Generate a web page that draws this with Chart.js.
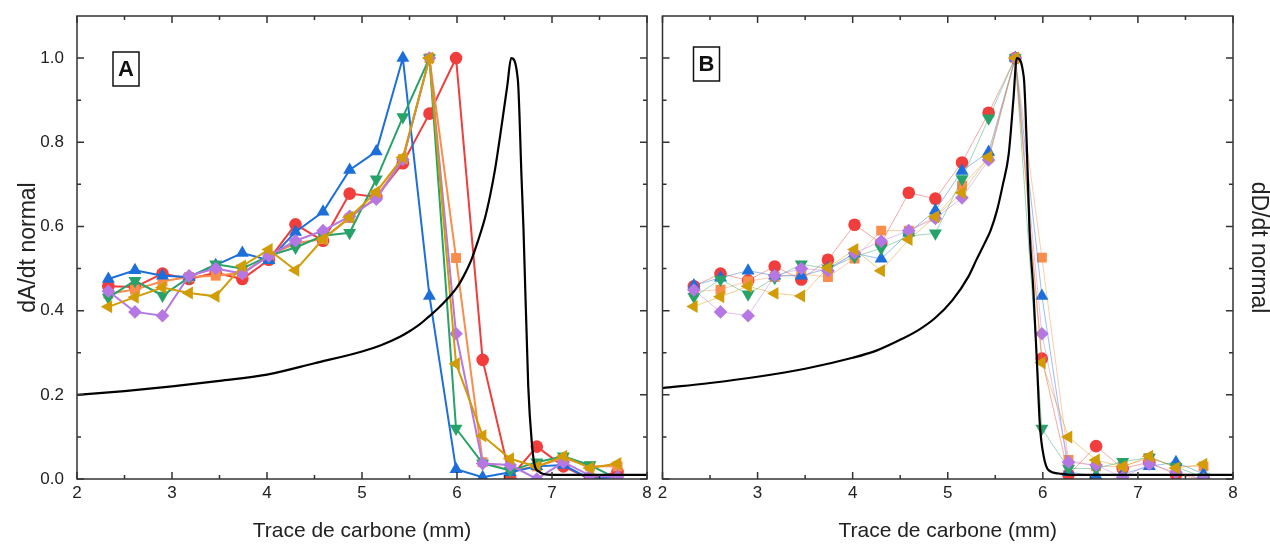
<!DOCTYPE html>
<html>
<head>
<meta charset="utf-8">
<script src="https://cdn.jsdelivr.net/npm/chart.js@4.4.0/dist/chart.umd.min.js"></script>
<style>
  html, body { margin: 0; padding: 0; background: #fff; }
  #wrapA { position: absolute; left: 0; top: 0; width: 655px; height: 544px; }
  #wrapB { position: absolute; left: 655px; top: 0; width: 615px; height: 544px; }
</style>
</head>
<body>
<div id="wrapA"><canvas id="chartA"></canvas></div>
<div id="wrapB"><canvas id="chartB"></canvas></div>
<script>
// sampling positions along the carbon trace (mm)
var xPos = [2.33, 2.61, 2.90, 3.18, 3.46, 3.74, 4.02, 4.30, 4.59, 4.87, 5.15, 5.43, 5.71, 5.99, 6.27, 6.56, 6.84, 7.12, 7.40, 7.69];

// panel A : dA/dt normalised
var redA    = [0.458, 0.456, 0.488, 0.475, 0.490, 0.475, 0.521, 0.605, 0.566, 0.678, 0.670, 0.750, 0.868, 1.000, 0.283, 0.003, 0.077, 0.030, 0.000, 0.017];
var orangeA = [0.440, 0.450, 0.470, 0.480, 0.483, 0.490, 0.530, 0.560, 0.570, 0.620, 0.670, 0.760, 1.000, 0.525, 0.040, 0.020, 0.030, 0.050, 0.030, 0.030];
var blueA   = [0.475, 0.496, 0.483, 0.480, 0.508, 0.537, 0.520, 0.587, 0.635, 0.734, 0.778, 1.000, 0.435, 0.023, 0.004, 0.016, 0.030, 0.033, 0.000, 0.005];
var greenA  = [0.431, 0.471, 0.436, 0.479, 0.510, 0.500, 0.530, 0.550, 0.578, 0.585, 0.712, 0.860, 1.000, 0.120, 0.037, 0.020, 0.040, 0.054, 0.033, 0.000];
var purpleA = [0.446, 0.397, 0.388, 0.483, 0.500, 0.488, 0.530, 0.566, 0.590, 0.624, 0.665, 0.759, 1.000, 0.345, 0.037, 0.033, 0.000, 0.040, 0.008, 0.005];
var goldA   = [0.409, 0.432, 0.455, 0.442, 0.434, 0.506, 0.545, 0.496, 0.570, 0.622, 0.682, 0.764, 1.000, 0.274, 0.103, 0.048, 0.029, 0.054, 0.026, 0.037];

// panel B : dD/dt normalised
var redB    = [0.458, 0.488, 0.472, 0.505, 0.474, 0.521, 0.604, 0.560, 0.680, 0.666, 0.752, 0.870, 1.000, 0.286, 0.010, 0.078, 0.025, 0.040, 0.010, 0.000];
var orangeB = [0.445, 0.450, 0.470, 0.480, 0.487, 0.480, 0.524, 0.590, 0.590, 0.623, 0.697, 0.763, 1.000, 0.526, 0.045, 0.030, 0.030, 0.050, 0.030, 0.030];
var blueB   = [0.460, 0.478, 0.495, 0.483, 0.483, 0.500, 0.536, 0.523, 0.585, 0.638, 0.732, 0.777, 1.000, 0.435, 0.016, 0.008, 0.012, 0.030, 0.040, 0.012];
var greenB  = [0.433, 0.474, 0.439, 0.478, 0.510, 0.500, 0.528, 0.548, 0.577, 0.584, 0.713, 0.857, 1.000, 0.120, 0.025, 0.025, 0.041, 0.051, 0.029, 0.004];
var purpleB = [0.449, 0.397, 0.388, 0.483, 0.500, 0.495, 0.537, 0.565, 0.590, 0.619, 0.668, 0.758, 1.000, 0.345, 0.040, 0.033, 0.004, 0.035, 0.016, 0.000];
var goldB   = [0.410, 0.433, 0.458, 0.441, 0.435, 0.502, 0.545, 0.495, 0.569, 0.623, 0.680, 0.765, 1.000, 0.276, 0.100, 0.045, 0.029, 0.054, 0.026, 0.035];

// black reference curves
var curveAx = [2.0, 2.5, 3.0, 3.5, 4.0, 4.5, 5.0, 5.2, 5.4, 5.5, 5.6, 5.7, 5.8, 5.9, 6.0, 6.07, 6.15, 6.22, 6.3, 6.35, 6.4, 6.47, 6.53, 6.57, 6.64, 6.68, 6.70, 6.75, 6.79, 6.82, 6.86, 6.91, 7.0, 7.5, 8.0];
var curveAy = [0.200, 0.209, 0.220, 0.233, 0.248, 0.275, 0.303, 0.318, 0.338, 0.351, 0.366, 0.385, 0.405, 0.428, 0.455, 0.482, 0.520, 0.565, 0.625, 0.675, 0.735, 0.840, 0.935, 1.000, 0.950, 0.712, 0.593, 0.220, 0.080, 0.030, 0.018, 0.012, 0.010, 0.010, 0.010];
var curveBx = [2.0, 2.5, 3.0, 3.5, 4.0, 4.25, 4.52, 4.7, 4.87, 5.05, 5.22, 5.3, 5.39, 5.45, 5.52, 5.58, 5.64, 5.69, 5.726, 5.80, 5.83, 5.86, 5.90, 5.94, 5.97, 6.01, 6.06, 6.17, 6.3, 7.0, 8.0];
var curveBy = [0.216, 0.228, 0.243, 0.262, 0.288, 0.305, 0.333, 0.355, 0.383, 0.425, 0.482, 0.520, 0.561, 0.590, 0.640, 0.700, 0.770, 0.900, 1.000, 0.954, 0.800, 0.590, 0.450, 0.267, 0.125, 0.053, 0.021, 0.013, 0.010, 0.010, 0.010];

var xTicks = [2, 3, 4, 5, 6, 7, 8];
var yTicks = [0, 0.2, 0.4, 0.6, 0.8, 1.0];

var FONT = 'Liberation Sans, Arial, sans-serif';

var markerStyles = {
  red:    { color: '#f23d3d', line: 'rgba(242,61,61,0.45)',  style: 'circle',   rot: 0,   r: 6.3 },
  orange: { color: '#f98d4b', line: 'rgba(249,141,75,0.45)', style: 'rect',     rot: 0,   r: 7 },
  blue:   { color: '#1c6fdb', line: 'rgba(28,111,219,0.45)', style: 'triangle', rot: 0,   r: 7.5 },
  green:  { color: '#27a36a', line: 'rgba(39,163,106,0.45)', style: 'triangle', rot: 180, r: 7.5 },
  purple: { color: '#b577e3', line: 'rgba(181,119,227,0.45)',style: 'rectRot',  rot: 0,   r: 6.8 },
  gold:   { color: '#d29c07', line: 'rgba(210,156,7,0.45)',  style: 'triangle', rot: 270, r: 7.5 }
};

function pts(xs, ys) {
  return xs.map(function (x, i) { return { x: x, y: ys[i] }; });
}

function markerSet(key, values, thin) {
  var m = markerStyles[key];
  return {
    data: pts(xPos, values),
    showLine: true,
    borderColor: thin ? m.line : m.color,
    borderWidth: thin ? 1 : 2,
    backgroundColor: m.color,
    pointBackgroundColor: m.color,
    pointBorderWidth: 0,
    pointStyle: m.style,
    pointRotation: m.rot,
    pointRadius: m.r
  };
}

function curveSet(xs, ys) {
  return {
    data: pts(xs, ys),
    showLine: true,
    borderColor: '#000',
    borderWidth: 2.2,
    pointRadius: 0,
    cubicInterpolationMode: 'monotone'
  };
}

// frame, inward ticks on the four sides and the boxed panel letter
var frameTicks = {
  id: 'frameTicks',
  afterDatasetsDraw: function (chart, args, opts) {
    var ctx = chart.ctx, a = chart.chartArea;
    var xs = chart.scales.x, ys = chart.scales.y;
    ctx.save();
    ctx.strokeStyle = '#333';
    ctx.lineWidth = 1.5;
    ctx.strokeRect(a.left, a.top, a.right - a.left, a.bottom - a.top);

    var xv = xs.ticks.map(function (t) { return t.value; });
    var yv = ys.ticks.map(function (t) { return t.value; });
    ctx.beginPath();
    function xt(v, len) {
      var p = xs.getPixelForValue(v);
      ctx.moveTo(p, a.bottom); ctx.lineTo(p, a.bottom - len);
      ctx.moveTo(p, a.top); ctx.lineTo(p, a.top + len);
    }
    function yt(v, len) {
      var p = ys.getPixelForValue(v);
      ctx.moveTo(a.left, p); ctx.lineTo(a.left + len, p);
      ctx.moveTo(a.right, p); ctx.lineTo(a.right - len, p);
    }
    xv.forEach(function (v, i) {
      xt(v, 7);
      if (i < xv.length - 1) xt((v + xv[i + 1]) / 2, 4);
    });
    yv.forEach(function (v, i) {
      yt(v, 7);
      if (i < yv.length - 1) yt((v + yv[i + 1]) / 2, 4);
    });
    ctx.stroke();

    ctx.lineWidth = 1.5;
    ctx.strokeStyle = '#111';
    var bx = a.left + opts.boxLeft, by = a.top + opts.boxTop;
    ctx.strokeRect(bx, by, 26, 34);
    ctx.fillStyle = '#111';
    ctx.font = 'bold 22px ' + FONT;
    ctx.textAlign = 'center';
    ctx.textBaseline = 'middle';
    ctx.fillText(opts.label, bx + 13, by + 18);
    ctx.restore();
  }
};

function noEdgePad(s) {
  s.paddingTop = 0; s.paddingBottom = 0; s.paddingLeft = 0; s.paddingRight = 0;
}

function xAxis() {
  return {
    type: 'linear', min: 2, max: 8,
    afterBuildTicks: function (s) { s.ticks = xTicks.map(function (v) { return { value: v }; }); },
    afterFit: function (s) { s.height = 65; noEdgePad(s); },
    grid: { display: false, drawTicks: false },
    border: { display: false },
    ticks: { font: { family: FONT, size: 17 }, color: '#222', padding: 4, maxRotation: 0,
             callback: function (v) { return String(v); } },
    title: { display: true, text: 'Trace de carbone (mm)', color: '#222',
             font: { family: FONT, size: 21, lineHeight: 1 }, padding: { top: 0, bottom: 2 } }
  };
}

function buildChart(id, datasets, yOpts, pad, plug) {
  return new Chart(document.getElementById(id), {
    type: 'scatter',
    data: { datasets: datasets },
    options: {
      responsive: true,
      maintainAspectRatio: false,
      animation: false,
      layout: { padding: pad },
      plugins: { legend: { display: false }, tooltip: { enabled: false }, frameTicks: plug },
      scales: { x: xAxis(), y: yOpts }
    },
    plugins: [frameTicks]
  });
}

var yBuild = function (s) { s.ticks = yTicks.map(function (v) { return { value: v }; }); };

buildChart('chartA', [
  curveSet(curveAx, curveAy),
  markerSet('gold', goldA), markerSet('purple', purpleA), markerSet('green', greenA),
  markerSet('blue', blueA), markerSet('orange', orangeA), markerSet('red', redA)
], {
  type: 'linear', min: 0, max: 1.1,
  afterBuildTicks: yBuild,
  afterFit: function (s) { s.width = 77; noEdgePad(s); },
  grid: { display: false, drawTicks: false },
  border: { display: false },
  ticks: { font: { family: FONT, size: 17 }, color: '#222', padding: 13,
           callback: function (v) { return v.toFixed(1); } },
  title: { display: true, text: 'dA/dt normal', color: '#222',
           font: { family: FONT, size: 23, lineHeight: 1 }, padding: { top: 17, bottom: 0 } }
}, { top: 16, right: 8, left: 0, bottom: 0 }, { label: 'A', boxLeft: 36, boxTop: 36 });

buildChart('chartB', [
  curveSet(curveBx, curveBy),
  markerSet('gold', goldB, true), markerSet('purple', purpleB, true), markerSet('green', greenB, true),
  markerSet('blue', blueB, true), markerSet('orange', orangeB, true), markerSet('red', redB, true)
], {
  type: 'linear', min: 0, max: 1.1, position: 'right',
  afterBuildTicks: yBuild,
  afterFit: function (s) { s.width = 37; noEdgePad(s); },
  grid: { display: false, drawTicks: false },
  border: { display: false },
  ticks: { display: false },
  title: { display: true, text: 'dD/dt normal', color: '#222',
           font: { family: FONT, size: 23, lineHeight: 1 }, padding: { top: 0, bottom: 0 } }
}, { top: 16, right: 0, left: 6, bottom: 0 }, { label: 'B', boxLeft: 31, boxTop: 31 });
</script>
</body>
</html>
